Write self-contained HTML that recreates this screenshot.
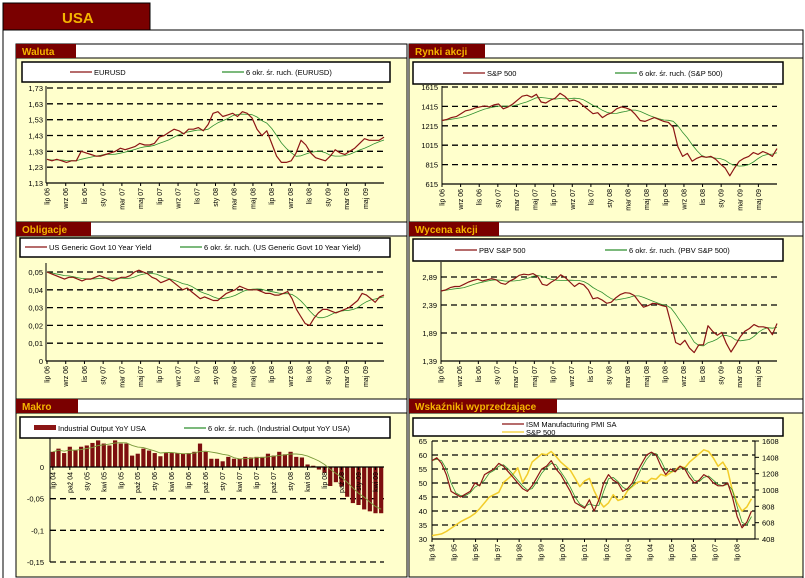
<!DOCTYPE html>
<html><head><meta charset="utf-8">
<style>
html,body{margin:0;padding:0;background:#fff;}
svg{display:block;font-family:"Liberation Sans",sans-serif;}
</style></head>
<body>
<svg id="page" width="805" height="578" viewBox="0 0 805 578" xmlns="http://www.w3.org/2000/svg">
  <rect x="3" y="30" width="800" height="550" fill="#fff" stroke="#000" stroke-width="1"/>
  <rect x="3" y="3" width="147" height="27" fill="#7a0000" stroke="#000" stroke-width="1"/>
  <text x="62" y="23" font-size="15" font-weight="bold" fill="#f5b400">USA</text>
  <g id="charts"></g>
</svg>
<script>
// ---------- DATA ----------
const eurusdValues=[1.28,1.27,1.28,1.27,1.26,1.27,1.27,1.33,1.32,1.31,1.30,1.30,1.31,1.32,1.33,1.35,1.34,1.35,1.36,1.38,1.37,1.37,1.38,1.42,1.43,1.45,1.47,1.46,1.44,1.47,1.47,1.48,1.46,1.50,1.57,1.58,1.55,1.56,1.57,1.55,1.58,1.57,1.54,1.47,1.43,1.46,1.38,1.30,1.26,1.26,1.27,1.32,1.40,1.37,1.32,1.29,1.28,1.27,1.30,1.34,1.32,1.31,1.33,1.35,1.38,1.41,1.40,1.40,1.40,1.42];
const eurusdTicks=[1.13,1.23,1.33,1.43,1.53,1.63,1.73];
const eurusdTickLabels=["1,13","1,23","1,33","1,43","1,53","1,63","1,73"];
const monthLabels=["lip 06","wrz 06","lis 06","sty 07","mar 07","maj 07","lip 07","wrz 07","lis 07","sty 08","mar 08","maj 08","lip 08","wrz 08","lis 08","sty 09","mar 09","maj 09"];

const spxValues=[1270,1280,1300,1310,1340,1370,1380,1400,1410,1420,1410,1430,1440,1390,1410,1440,1480,1520,1530,1510,1540,1460,1450,1480,1500,1550,1520,1470,1480,1460,1420,1380,1340,1350,1300,1330,1350,1390,1410,1400,1380,1330,1270,1260,1280,1300,1280,1260,1250,1200,1000,900,930,850,880,900,890,900,870,820,780,700,780,850,880,900,940,920,950,930,900,980];
const spxTicks=[615,815,1015,1215,1415,1615];
const spxTickLabels=["615","815","1015","1215","1415","1615"];

const yieldValues=[0.050,0.049,0.048,0.047,0.046,0.047,0.047,0.046,0.045,0.046,0.046,0.047,0.048,0.047,0.046,0.045,0.046,0.047,0.047,0.048,0.050,0.051,0.050,0.049,0.047,0.046,0.044,0.045,0.046,0.044,0.042,0.040,0.041,0.039,0.037,0.035,0.036,0.035,0.034,0.034,0.036,0.038,0.039,0.040,0.042,0.041,0.040,0.040,0.040,0.039,0.038,0.038,0.037,0.037,0.038,0.039,0.035,0.029,0.025,0.021,0.020,0.024,0.027,0.029,0.029,0.028,0.027,0.028,0.029,0.030,0.032,0.034,0.038,0.037,0.035,0.033,0.036,0.037];
const yieldTicks=[0,0.01,0.02,0.03,0.04,0.05];
const yieldTickLabels=["0","0,01","0,02","0,03","0,04","0,05"];

const pbvValues=[2.64,2.66,2.70,2.72,2.72,2.76,2.80,2.83,2.85,2.82,2.84,2.86,2.84,2.78,2.76,2.82,2.86,2.92,2.94,2.93,2.95,2.90,2.76,2.74,2.80,2.85,2.93,2.88,2.80,2.72,2.78,2.75,2.66,2.50,2.52,2.48,2.42,2.44,2.52,2.58,2.61,2.60,2.56,2.45,2.35,2.38,2.42,2.41,2.38,2.36,2.05,1.72,1.68,1.76,1.62,1.54,1.68,1.68,2.02,1.92,1.85,1.90,1.70,1.55,1.68,1.82,1.92,1.97,2.04,2.00,2.00,1.98,1.86,2.06];
const pbvTicks=[1.39,1.89,2.39,2.89];
const pbvTickLabels=["1,39","1,89","2,39","2,89"];

const ioValues=[0.024,0.029,0.022,0.032,0.026,0.032,0.034,0.038,0.042,0.037,0.034,0.042,0.037,0.037,0.018,0.021,0.029,0.026,0.022,0.017,0.022,0.022,0.022,0.021,0.022,0.024,0.037,0.024,0.013,0.013,0.009,0.016,0.013,0.013,0.016,0.015,0.016,0.016,0.021,0.018,0.024,0.020,0.024,0.016,0.015,0.004,0.002,-0.004,-0.009,-0.030,-0.024,-0.031,-0.047,-0.057,-0.060,-0.067,-0.070,-0.073,-0.073];
const ioTicks=[-0.15,-0.1,-0.05,0];
const ioTickLabels=["-0,15","-0,1","-0,05","0"];
const quarterLabels=["lip 04","paź 04","sty 05","kwi 05","lip 05","paź 05","sty 06","kwi 06","lip 06","paź 06","sty 07","kwi 07","lip 07","paź 07","sty 08","kwi 08","lip 08","paź 08","sty 09","kwi 09"];

const ismValues=[58,59,57,53,47,46,45,46,47,50,49,53,54,55,57,56,54,52,50,48,47,49,52,55,56,58,55,53,50,47,43,42,41,44,40,44,50,53,51,50,47,48,50,54,57,60,61,60,56,53,55,54,56,55,52,50,51,53,52,50,49,49,50,45,38,34,36,40];
const spxLongValues=[450,460,470,500,540,580,620,650,680,720,780,850,920,950,980,1100,1150,1200,1280,1100,1200,1350,1400,1450,1440,1480,1420,1350,1300,1250,1150,1050,1120,1150,1000,880,800,850,950,880,900,1000,1050,1100,1120,1100,1150,1140,1200,1180,1220,1250,1300,1280,1350,1400,1450,1500,1480,1400,1300,1350,1250,1000,850,750,800,900];
const ismTicks=[30,35,40,45,50,55,60,65];
const ismTickLabels=["30","35","40","45","50","55","60","65"];
const spxLongTicks=[408,608,808,1008,1208,1408,1608];
const spxLongTickLabels=["408","608","808","1008","1208","1408","1608"];
const yearLabels=["lip 94","lip 95","lip 96","lip 97","lip 98","lip 99","lip 00","lip 01","lip 02","lip 03","lip 04","lip 05","lip 06","lip 07","lip 08"];

// ---------- HELPERS ----------
const NS="http://www.w3.org/2000/svg";
const root=document.getElementById('charts');
function mk(tag,attrs,parent){const e=document.createElementNS(NS,tag);for(const k in attrs)e.setAttribute(k,attrs[k]);(parent||root).appendChild(e);return e;}
function lin(d0,d1,r0,r1){return v=>r0+(v-d0)/(d1-d0)*(r1-r0);}
function movAvg(a,n){return a.map((_,i)=>{const s=a.slice(Math.max(0,i-n+1),i+1);return s.reduce((p,c)=>p+c,0)/s.length;});}
const RED="#8b1515",GREEN="#2f8f2f",YEL="#f2cc2a",BG="#ffffcc";

function panel(x,y,w,h,tabW,title,name){
  const g=mk('g',{});
  
  
  const bg=mk('rect',{x:x,y:y+14,width:w,height:h-14,fill:BG,stroke:'#000','stroke-width':1},g);
  
  
  const hs=mk('rect',{x:x,y:y,width:w,height:14,fill:'#fff',stroke:'#000','stroke-width':1},g);
  
  
  const tab=mk('rect',{x:x,y:y,width:tabW,height:14,fill:'#7a0000'},g);
  
  
  const t=mk('text',{x:x+6,y:y+11,'font-size':10,'font-weight':'bold',fill:'#f5b400'},g);
  t.textContent=title;
  
  
}
function legendBox(x,y,w,h,name){
  const r=mk('rect',{x:x,y:y,width:w,height:h,fill:'#fff',stroke:'#000','stroke-width':1.5});
  
  
}
function legendEntry(x,y,color,label,name,isBar){
  let m;
  if(isBar){m=mk('rect',{x:x,y:y-3,width:22,height:5,fill:color});}
  else{m=mk('line',{x1:x,y1:y,x2:x+22,y2:y,stroke:color,'stroke-width':1.2});}
  
  
  const t=mk('text',{x:x+24,y:y+3,'font-size':7.5,fill:'#000'});
  t.textContent=label;
  
  
}
function grid(ticks,labels,ys,x0,x1,name,dashedAll,labelX,anchor){
  ticks.forEach((v,i)=>{
    const y=ys(v);
    const l=mk('line',{x1:x0,y1:y,x2:x1,y2:y,stroke:'#000','stroke-width':1.3,'stroke-dasharray':'6,4'});
    
    
    const t=mk('text',{x:labelX,y:y+3,'font-size':7.5,'text-anchor':anchor||'end',fill:'#000'});
    t.textContent=labels[i];
    
    
  });
}
function axes(x0,x1,yTop,yBot,yAxisX,name){
  const a=mk('line',{x1:yAxisX,y1:yTop,x2:yAxisX,y2:yBot,stroke:'#000','stroke-width':1});
  
  
}
function xAxis(x0,x1,y,name){
  const a=mk('line',{x1:x0,y1:y,x2:x1,y2:y,stroke:'#000','stroke-width':1.2});
  
  
}
function xLabels(labels,xs,step,y,name){
  labels.forEach((lb,i)=>{
    const x=xs(i*step);
    const tk=mk('line',{x1:x,y1:y,x2:x,y2:y+3,stroke:'#000','stroke-width':1});
    
    
    const t=mk('text',{x:x+2.5,y:y+5,'font-size':7,'text-anchor':'end',fill:'#000',transform:`rotate(-90 ${x+2.5} ${y+5})`});
    t.textContent=lb;
    
    
  });
}
function line(vals,xs,ys,span,color,w,name){
  const n=vals.length;
  const d=vals.map((v,i)=>(i?'L':'M')+xs(i*span/(n-1)).toFixed(1)+','+ys(v).toFixed(1)).join(' ');
  const p=mk('path',{d:d,fill:'none',stroke:color,'stroke-width':w,'stroke-linejoin':'round'});
  
  
}

// ---------- WALUTA ----------
panel(16,44,391,178,60,'Waluta','waluta');
legendBox(22,62,368,20,'waluta');
legendEntry(70,72,RED,'EURUSD','eurusd');
legendEntry(222,72,GREEN,'6 okr. śr. ruch. (EURUSD)','eurusd-ma');
{const xs=lin(0,36,47,384),ys=lin(1.13,1.73,183,88);
grid(eurusdTicks.slice(1),eurusdTickLabels.slice(1),ys,47,384,'waluta',true,43);
{const t=mk('text',{x:43,y:186,'font-size':7.5,'text-anchor':'end'});t.textContent=eurusdTickLabels[0];}
axes(47,384,86,183,46,'waluta');xAxis(46,384,183,'waluta');
xLabels(monthLabels,xs,2,183,'waluta');
line(movAvg(eurusdValues,6),xs,ys,36,GREEN,0.8,'eurusd-ma-line');
line(eurusdValues,xs,ys,36,RED,1.2,'eurusd-line');}

// ---------- OBLIGACJE ----------
panel(16,222,391,177,75,'Obligacje','obligacje');
legendBox(20,238,370,19,'obligacje');
legendEntry(25,247,RED,'US Generic Govt 10 Year Yield','yield');
legendEntry(180,247,GREEN,'6 okr. śr. ruch. (US Generic Govt 10 Year Yield)','yield-ma');
{const xs=lin(0,36,47,384),ys=lin(0,0.05,361,272);
grid(yieldTicks.slice(1),yieldTickLabels.slice(1),ys,47,384,'obligacje',true,43);
{const t=mk('text',{x:43,y:364,'font-size':7.5,'text-anchor':'end'});t.textContent=yieldTickLabels[0];}
axes(47,384,263,361,46,'obligacje');xAxis(46,384,361,'obligacje');
xLabels(monthLabels,xs,2,361,'obligacje');
line(movAvg(yieldValues,6),xs,ys,36,GREEN,0.8,'yield-ma-line');
line(yieldValues,xs,ys,36,RED,1.2,'yield-line');}

// ---------- MAKRO ----------
panel(16,399,391,178,62,'Makro','makro');
legendBox(20,417,370,21,'makro');
legendEntry(34,428,RED,'Industrial Output YoY USA','industrial-output',true);
legendEntry(184,428,GREEN,'6 okr. śr. ruch. (Industrial Output YoY USA)','industrial-output-ma');
{const n=ioValues.length,slot=(384-50)/n;
const xs=i=>50+slot*(i+0.5),ys=lin(-0.15,0,562,467);
grid(ioTicks.slice(0,3),ioTickLabels.slice(0,3),ys,50,384,'makro',true,44);
{const t=mk('text',{x:44,y:470,'font-size':7.5,'text-anchor':'end'});t.textContent=ioTickLabels[3];}
ioValues.forEach((v,i)=>{
  const y0=ys(0),y1=ys(v);
  const b=mk('rect',{x:xs(i)-2.1,y:Math.min(y0,y1),width:4.2,height:Math.abs(y1-y0),fill:'#7d0f0f'});
  
  
});
axes(50,384,438,562,50,'makro');xAxis(50,384,467,'makro');
const xq=k=>xs(k);
xLabels(quarterLabels.slice(0,Math.ceil(n/3)),xq,3,467,'makro');
const ma=movAvg(ioValues,6);
const d=ma.map((v,i)=>(i?'L':'M')+xs(i).toFixed(1)+','+ys(v).toFixed(1)).join(' ');
const p=mk('path',{d:d,fill:'none',stroke:'#7a9a3a','stroke-width':0.9});

}

// ---------- RYNKI AKCJI ----------
panel(409,44,394,178,76,'Rynki akcji','rynki');
legendBox(413,62,370,22,'rynki');
legendEntry(463,73,RED,'S&P 500','spx');
legendEntry(615,73,GREEN,'6 okr. śr. ruch. (S&P 500)','spx-ma');
{const xs=lin(0,36,442,777),ys=lin(615,1615,184,87);
grid(spxTicks.slice(1),spxTickLabels.slice(1),ys,442,777,'rynki',true,438);
{const t=mk('text',{x:438,y:187,'font-size':7.5,'text-anchor':'end'});t.textContent=spxTickLabels[0];}
axes(442,777,86,184,442,'rynki');xAxis(442,777,184,'rynki');
xLabels(monthLabels,xs,2,184,'rynki');
line(movAvg(spxValues,6),xs,ys,36,GREEN,0.8,'spx-ma-line');
line(spxValues,xs,ys,36,RED,1.2,'spx-line');}

// ---------- WYCENA AKCJI ----------
panel(409,222,394,177,90,'Wycena akcji','wycena');
legendBox(413,239,370,22,'wycena');
legendEntry(455,250,RED,'PBV S&P 500','pbv');
legendEntry(605,250,GREEN,'6 okr. śr. ruch. (PBV S&P 500)','pbv-ma');
{const xs=lin(0,36,441,777),ys=lin(1.39,2.89,361,277);
grid(pbvTicks.slice(1),pbvTickLabels.slice(1),ys,441,777,'wycena',true,437);
{const t=mk('text',{x:437,y:364,'font-size':7.5,'text-anchor':'end'});t.textContent=pbvTickLabels[0];}
axes(441,777,262,361,441,'wycena');xAxis(441,777,361,'wycena');
xLabels(monthLabels,xs,2,361,'wycena');
line(movAvg(pbvValues,6),xs,ys,36,GREEN,0.8,'pbv-ma-line');
line(pbvValues,xs,ys,36,RED,1.2,'pbv-line');}

// ---------- WSKAZNIKI ----------
panel(409,399,394,178,148,'Wskaźniki wyprzedzające','wskazniki');
legendBox(413,418,370,18,'wskazniki');
legendEntry(502,424,RED,'ISM Manufacturing PMI SA','ism');
legendEntry(502,432,YEL,'S&P 500','spx-long');
{const xs=lin(0,168,432,737),ysL=lin(30,65,539,441),ysR=lin(408,1608,539,441);
ismTicks.slice(1).forEach((v,i)=>{
  const y=ysL(v);
  const l=mk('line',{x1:432,y1:y,x2:755,y2:y,stroke:'#000','stroke-width':1.3,'stroke-dasharray':'6,4'});
  
  
});
ismTicks.forEach((v,i)=>{
  const t=mk('text',{x:427,y:ysL(v)+3,'font-size':7.5,'text-anchor':'end'});
  t.textContent=ismTickLabels[i];
  
  
});
spxLongTicks.forEach((v,i)=>{
  const y=ysR(v);
  const tk=mk('line',{x1:755,y1:y,x2:759,y2:y,stroke:'#000','stroke-width':1});
  
  
  const t=mk('text',{x:762,y:y+3,'font-size':7.5,'text-anchor':'start'});
  t.textContent=spxLongTickLabels[i];
  
  
});
axes(432,755,441,539,432,'wskazniki');
{const a=mk('line',{x1:755,y1:441,x2:755,y2:539,stroke:'#000','stroke-width':1});}
xAxis(432,755,539,'wskazniki');
xLabels(yearLabels,xs,12,539,'wskazniki');
line(spxLongValues,xs,ysR,176,YEL,1.5,'spx-long-line');
line(movAvg(ismValues,2),xs,ysL,176,GREEN,0.8,'ism-ma-line');
line(ismValues,xs,ysL,176,RED,1.2,'ism-line');}
</script>
</body></html>
